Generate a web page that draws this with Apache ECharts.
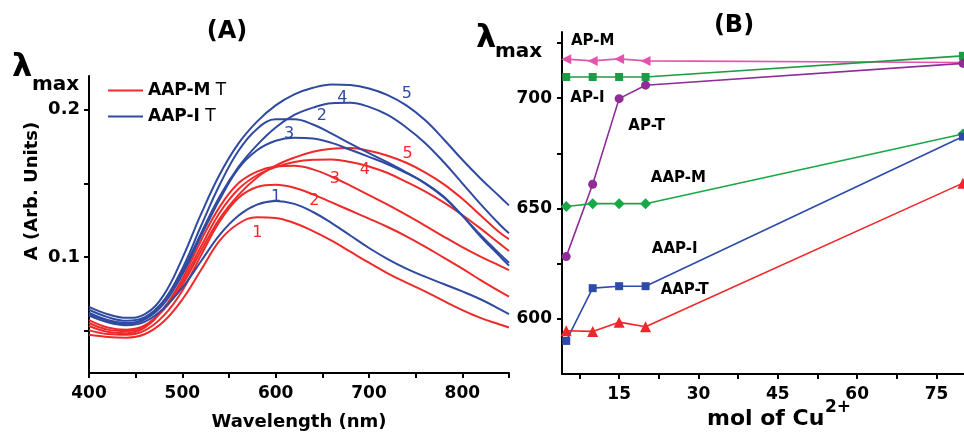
<!DOCTYPE html>
<html>
<head>
<meta charset="utf-8">
<script src="https://cdn.jsdelivr.net/npm/echarts@6.0.0/dist/echarts.min.js"></script>
<style>
html,body{margin:0;padding:0;background:#fff;}
#chart{width:964px;height:436px;}
</style>
</head>
<body>
<div id="chart"></div>
<script>
// ---------- Panel A: spectra ----------
const wavelengths = [400,420,440,460,480,500,520,540,560,580,600,620,640,660,680,700,720,740,760,780,800,820,840,850];
const aapM1 = [0.047,0.0455,0.045,0.0475,0.056,0.071,0.091,0.111,0.1225,0.127,0.1265,0.123,0.1175,0.111,0.1035,0.096,0.0888,0.0825,0.0765,0.070,0.0638,0.0583,0.054,0.052];
const aapM2 = [0.050,0.0475,0.047,0.050,0.060,0.077,0.101,0.124,0.140,0.1475,0.149,0.147,0.1425,0.137,0.1315,0.126,0.1203,0.114,0.107,0.0995,0.092,0.084,0.0765,0.073];
const aapM3 = [0.053,0.049,0.048,0.052,0.065,0.085,0.111,0.134,0.150,0.158,0.1615,0.162,0.1595,0.1545,0.1485,0.142,0.1355,0.1285,0.1213,0.1138,0.1066,0.100,0.094,0.091];
const aapM4 = [0.055,0.0505,0.0495,0.053,0.065,0.083,0.107,0.130,0.146,0.1555,0.161,0.1645,0.166,0.1662,0.1645,0.1615,0.157,0.151,0.1445,0.137,0.1285,0.119,0.109,0.104];
const aapM5 = [0.057,0.052,0.0505,0.0535,0.064,0.081,0.104,0.126,0.142,0.154,0.162,0.1675,0.1715,0.1735,0.174,0.1722,0.1688,0.164,0.1575,0.1495,0.1395,0.1280,0.1165,0.112];
const aapI1 = [0.060,0.0555,0.0535,0.056,0.065,0.079,0.097,0.115,0.128,0.1355,0.138,0.136,0.1305,0.123,0.1145,0.106,0.0985,0.092,0.0865,0.0815,0.0765,0.071,0.0645,0.061];
const aapI2 = [0.062,0.057,0.055,0.058,0.070,0.092,0.121,0.149,0.172,0.187,0.1935,0.1935,0.190,0.1838,0.177,0.1705,0.1642,0.1575,0.1502,0.141,0.128,0.1145,0.102,0.096];
const aapI3 = [0.061,0.0565,0.0545,0.0575,0.068,0.088,0.114,0.139,0.160,0.1725,0.179,0.181,0.1805,0.1775,0.1728,0.168,0.163,0.157,0.150,0.1405,0.128,0.1135,0.1005,0.094];
const aapI4 = [0.064,0.059,0.0565,0.059,0.070,0.090,0.116,0.141,0.161,0.176,0.188,0.1965,0.2015,0.2045,0.2048,0.202,0.1965,0.188,0.1775,0.1645,0.150,0.1355,0.122,0.116];
const aapI5 = [0.066,0.061,0.0585,0.061,0.074,0.099,0.129,0.156,0.177,0.192,0.203,0.2105,0.215,0.2172,0.2168,0.2145,0.210,0.203,0.193,0.180,0.166,0.153,0.141,0.135];
const curveNumbersM = ['1','2','3','4','5'];
const curveNumbersI = ['1','2','3','4','5'];
// number labels anchored in data coordinates [wavelength, absorbance]
const labelAnchorsM = [[581,0.1157],[642,0.138],[664,0.1528],[696,0.1589],[742,0.1697]];
const labelAnchorsI = [[601,0.1407],[650,0.1955],[615,0.183],[672,0.208],[741,0.2108]];
const xTicksA = [400,450,500,550,600,650,700,750,800,850];
const xLabelsA = [400,500,600,700,800];
const yTicksA = [0.05,0.1,0.15,0.2];
const yLabelsA = [0.1,0.2];

// ---------- Panel B: lambda max vs Cu ----------
const molCu = [5,10,15,20,80];
const apM  = [717.7,716.9,717.8,716.9,716.2];
const apI  = [709.6,709.6,709.6,709.6,719.2];
const apT  = [628.2,661.0,699.8,705.9,715.8];
const aapM = [650.9,652.2,652.2,652.2,683.8];
const aapI = [590.0,613.9,614.8,614.8,682.6];
const aapT = [594.6,594.3,598.5,596.4,661.5];
const seriesNamesB = ['AP-M','AP-I','AP-T','AAP-M','AAP-I','AAP-T'];
const labelAnchorsB = [[10.1,725.5],[9.1,699.7],[20.3,687],[26.3,663.4],[25.6,631.3],[27.5,612.7]];
const xTicksB = [7.5,15,22.5,30,37.5,45,52.5,60,67.5,75];
const xLabelsB = [15,30,45,60,75];
const yTicksB = [600,625,650,675,700,725];
const yLabelsB = [600,650,700];

const RED = '#ef2a2a';
const BLUE = '#2f4aa0';
const FONT = 'DejaVu Sans';

function zip(xs, ys){ return xs.map((x,i)=>[x, ys[i]]); }

const axisCommon = {
  axisLine:{show:true, onZero:false, lineStyle:{color:'#000', width:2}},
  axisTick:{show:true, inside:false, length:5, lineStyle:{color:'#000', width:2}},
  splitLine:{show:false},
  axisLabel:{color:'#000', fontFamily:FONT, fontWeight:'bold', fontSize:17}
};

function spectrum(name, color, ys){
  return {type:'line', name:name, xAxisIndex:0, yAxisIndex:0, data:zip(wavelengths, ys),
    smooth:0.4, symbol:'none', lineStyle:{color:color, width:2}, itemStyle:{color:color}, z:2};
}

const series = [];
[aapM1,aapM2,aapM3,aapM4,aapM5].forEach(d=>series.push(spectrum('AAP-M T', RED, d)));
[aapI1,aapI2,aapI3,aapI4,aapI5].forEach(d=>series.push(spectrum('AAP-I T', BLUE, d)));

function textMarks(xi, names, anchors, color, weight, size){
  return {type:'scatter', xAxisIndex:xi, yAxisIndex:xi, symbolSize:1, silent:true,
    itemStyle:{color:'#fff', opacity:0}, z:5,
    label:{show:true, position:[0,0], align:'center', verticalAlign:'middle', formatter:'{b}',
      color:color, opacity:1, textBorderWidth:0, fontFamily:FONT, fontWeight:weight, fontSize:size},
    data:anchors.map((a,i)=>({name:names[i], value:a}))};
}
series.push(textMarks(0, curveNumbersM, labelAnchorsM, RED, 'normal', 16));
series.push(textMarks(0, curveNumbersI, labelAnchorsI, BLUE, 'normal', 16));

const styleB = [
  {color:'#e454ad', symbol:'triangle', size:10, rotate:90},
  {color:'#1f9a45', symbol:'rect', size:8, rotate:0},
  {color:'#8e2c98', symbol:'circle', size:9, rotate:0},
  {color:'#19a847', symbol:'diamond', size:11, rotate:0},
  {color:'#2e4ba8', symbol:'rect', size:8, rotate:0},
  {color:'#f0262a', symbol:'triangle', size:11, rotate:0}
];
[apM, apI, apT, aapM, aapI, aapT].forEach((d,i)=>{
  const s = styleB[i];
  series.push({type:'line', name:seriesNamesB[i], xAxisIndex:1, yAxisIndex:1, data:zip(molCu, d),
    symbol:s.symbol, symbolSize:s.size, symbolRotate:s.rotate, showSymbol:true, clip:false,
    lineStyle:{color:s.color, width:1.6}, itemStyle:{color:s.color}, z:3});
});
series.push(textMarks(1, seriesNamesB, labelAnchorsB, '#000', 'bold', 15));

const option = {
  animation:false,
  backgroundColor:'#fff',
  grid:[
    {left:89, top:76, width:420, height:300, containLabel:false},
    {left:562, top:32, width:402, height:342, containLabel:false}
  ],
  legend:{
    data:['AAP-M T','AAP-I T'], orient:'vertical', left:103, top:77, itemGap:9,
    icon:'rect', itemWidth:35, itemHeight:2, selectedMode:false,
    formatter:function(n){ const p=n.split(' '); return '{b|'+p[0]+'} {n|'+p[1]+'}'; },
    textStyle:{color:'#000', fontSize:17, fontFamily:FONT,
      rich:{b:{fontWeight:'bold', fontSize:17, fontFamily:FONT, color:'#000'},
            n:{fontWeight:'normal', fontSize:17, fontFamily:FONT, color:'#000'}}}
  },
  xAxis:[
    Object.assign({}, axisCommon, {type:'value', gridIndex:0, min:400, max:850,
      name:'Wavelength (nm)', nameLocation:'middle', nameGap:40,
      nameTextStyle:{color:'#000', fontFamily:FONT, fontWeight:'bold', fontSize:18},
      axisTick:Object.assign({}, axisCommon.axisTick, {customValues:xTicksA}),
      axisLabel:Object.assign({}, axisCommon.axisLabel, {margin:12, customValues:xLabelsA})}),
    Object.assign({}, axisCommon, {type:'value', gridIndex:1, min:4.2, max:80.2,
      axisTick:Object.assign({}, axisCommon.axisTick, {customValues:xTicksB}),
      axisLabel:Object.assign({}, axisCommon.axisLabel, {margin:12, customValues:xLabelsB})})
  ],
  yAxis:[
    Object.assign({}, axisCommon, {type:'value', gridIndex:0, min:0.021, max:0.223,
      axisTick:Object.assign({}, axisCommon.axisTick, {customValues:yTicksA}),
      axisLabel:Object.assign({}, axisCommon.axisLabel, {margin:9, fontSize:18, customValues:yLabelsA,
        formatter:function(v){ return String(Math.round(v*10)/10); }})}),
    Object.assign({}, axisCommon, {type:'value', gridIndex:1, min:575, max:730,
      axisTick:Object.assign({}, axisCommon.axisTick, {customValues:yTicksB}),
      axisLabel:Object.assign({}, axisCommon.axisLabel, {margin:10, customValues:yLabelsB})})
  ],
  graphic:[
    {type:'text', x:227, y:32, style:{text:'(A)', align:'center', verticalAlign:'middle', fill:'#000', font:'bold 24px "DejaVu Sans"'}},
    {type:'text', x:734, y:26, style:{text:'(B)', align:'center', verticalAlign:'middle', fill:'#000', font:'bold 24px "DejaVu Sans"'}},
    {type:'text', x:12, y:68, style:{text:'λ', align:'left', verticalAlign:'middle', fill:'#000', font:'bold 32px "DejaVu Sans"'}},
    {type:'text', x:32, y:85, style:{text:'max', align:'left', verticalAlign:'middle', fill:'#000', font:'bold 20px "DejaVu Sans"'}},
    {type:'text', x:476, y:39, style:{text:'λ', align:'left', verticalAlign:'middle', fill:'#000', font:'bold 32px "DejaVu Sans"'}},
    {type:'text', x:495, y:52, style:{text:'max', align:'left', verticalAlign:'middle', fill:'#000', font:'bold 20px "DejaVu Sans"'}},
    {type:'text', x:32, y:191, rotation:Math.PI/2, style:{text:'A (Arb. Units)', align:'center', verticalAlign:'middle', fill:'#000', font:'bold 18px "DejaVu Sans"'}},
    {type:'text', x:707, y:419, style:{text:'mol of Cu', align:'left', verticalAlign:'middle', fill:'#000', font:'bold 22px "DejaVu Sans"'}},
    {type:'text', x:825, y:408, style:{text:'2+', align:'left', verticalAlign:'middle', fill:'#000', font:'bold 17px "DejaVu Sans"'}}
  ],
  series:series
};

const chart = echarts.init(document.getElementById('chart'), null, {renderer:'canvas'});
chart.setOption(option);
</script>
</body>
</html>
